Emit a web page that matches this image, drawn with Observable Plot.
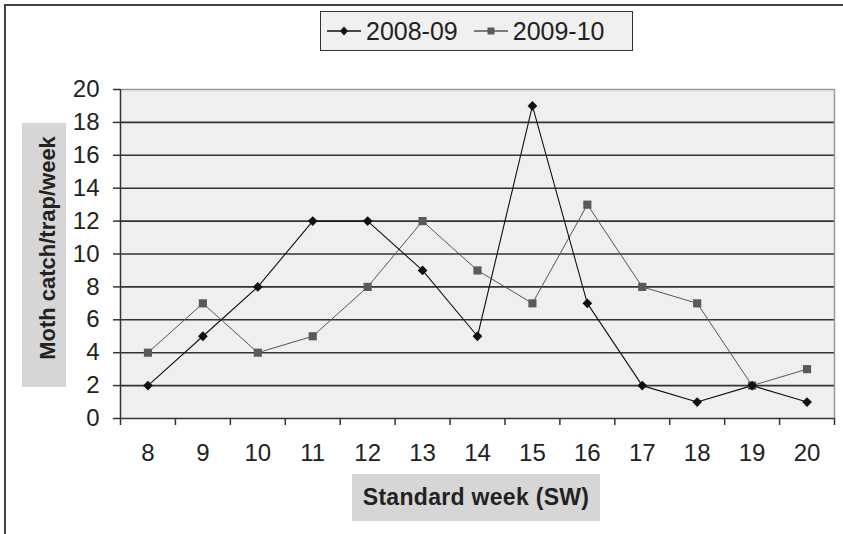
<!DOCTYPE html>
<html>
<head>
<meta charset="utf-8">
<script src="https://cdn.jsdelivr.net/npm/d3@7"></script>
<script src="https://cdn.jsdelivr.net/npm/@observablehq/plot@0.6"></script>
<style>
  body { margin: 0; background: #fff; font-family: "Liberation Sans", Arial, sans-serif; }
  #wrap { position: relative; width: 843px; height: 534px; overflow: hidden; background: #fff; }
  #frame { position: absolute; left: 4px; top: 4px; width: 900px; height: 600px; border-top: 2px solid #444; border-left: 2px solid #444; }
  #legend { position: relative; height: 60px; }
  #legendbox { position: absolute; left: 320px; top: 11px; width: 311px; height: 38px; background: #f0f0f0; border: 1.5px solid #333; display: flex; align-items: center; font-size: 25px; color: #222; font-family: "Liberation Sans Narrow", "Liberation Sans", Arial, sans-serif; }
  .item { display: flex; align-items: center; margin-left: 6px; margin-right: 10px; }
  .item svg { margin-right: 5px; }
  #chart { position: absolute; left: 0; top: 60px; }
</style>
</head>
<body>
<div id="wrap">
  <div id="frame"></div>
  <div id="legend"><div id="legendbox"></div></div>
  <div id="chart"></div>
</div>
<script>
const weeks = [8, 9, 10, 11, 12, 13, 14, 15, 16, 17, 18, 19, 20];
const series0809 = [2, 5, 8, 12, 12, 9, 5, 19, 7, 2, 1, 2, 1];
const series0910 = [4, 7, 4, 5, 8, 12, 9, 7, 13, 8, 7, 2, 3];
const seriesNames = ["2008-09", "2009-10"];
const yTicks = [0, 2, 4, 6, 8, 10, 12, 14, 16, 18, 20];
const xLabel = "Standard week (SW)";
const yLabel = "Moth catch/trap/week";

const d1 = weeks.map((w, i) => ({week: w, value: series0809[i]}));
const d2 = weeks.map((w, i) => ({week: w, value: series0910[i]}));
const boundaries = [...weeks.map(w => w - 0.5), weeks[weeks.length - 1] + 0.5];
const gridVals = yTicks.slice(1, -1);
const tickFont = "'Liberation Sans Narrow', 'Liberation Sans', Arial, sans-serif";

const chart = Plot.plot({
  width: 843,
  height: 474,
  marginTop: 29,
  marginBottom: 116,
  marginLeft: 120,
  marginRight: 9,
  style: {fontFamily: "'Liberation Sans', Arial, sans-serif", color: "#222", background: "transparent"},
  x: {type: "linear", domain: [boundaries[0], boundaries[boundaries.length - 1]]},
  y: {domain: [0, 20]},
  marks: [
    Plot.frame({fill: "#efefef", stroke: null}),
    Plot.ruleY(gridVals, {stroke: "#333", strokeWidth: 1.6}),
    Plot.ruleY([20], {stroke: "#999", strokeWidth: 1.5}),
    Plot.ruleX([boundaries[boundaries.length - 1]], {stroke: "#999", strokeWidth: 1.5}),
    Plot.ruleX([boundaries[0]], {stroke: "#333", strokeWidth: 1.5}),
    Plot.ruleY([0], {stroke: "#333", strokeWidth: 1.5}),
    Plot.axisX(boundaries, {tickSize: 7, tickFormat: () => "", stroke: "#333", strokeWidth: 1.5, label: null}),
    Plot.axisX(weeks, {tickSize: 0, tickPadding: 25, fontSize: 24, fontFamily: tickFont, label: null, tickFormat: d => String(d)}),
    Plot.axisY(yTicks, {tickSize: 7, tickPadding: 14, fontSize: 24, fontFamily: tickFont, stroke: "#333", strokeWidth: 1.5, label: null}),
    Plot.line(d2, {x: "week", y: "value", stroke: "#555", strokeWidth: 1}),
    Plot.line(d1, {x: "week", y: "value", stroke: "#111", strokeWidth: 1.1}),
    Plot.dot(d2, {x: "week", y: "value", symbol: "square", r: 4.6, fill: "#5a5a5a", stroke: null}),
    Plot.dot(d1, {x: "week", y: "value", symbol: "diamond2", r: 4.4, fill: "#111", stroke: null})
  ]
});
document.getElementById("chart").appendChild(chart);

// axis title boxes
const svg = d3.select(chart);
const yg = svg.append("g");
yg.append("rect").attr("x", 22).attr("y", 63).attr("width", 44).attr("height", 264).attr("fill", "#d6d6d6");
yg.append("text").attr("transform", "translate(47,188) rotate(-90)")
  .attr("text-anchor", "middle").attr("dominant-baseline", "central")
  .attr("font-size", 22).attr("font-weight", "bold").attr("fill", "#222").text(yLabel);
const xg = svg.append("g");
xg.append("rect").attr("x", 352).attr("y", 414).attr("width", 248).attr("height", 47).attr("fill", "#d6d6d6");
xg.append("text").attr("x", 476).attr("y", 437)
  .attr("text-anchor", "middle").attr("dominant-baseline", "central")
  .attr("font-size", 23).attr("font-weight", "bold").attr("letter-spacing", 0.3).attr("fill", "#222").text(xLabel);

// legend
const lb = document.getElementById("legendbox");
const mk = [
  {name: seriesNames[0], color: "#111", shape: "diamond"},
  {name: seriesNames[1], color: "#555", shape: "square"}
];
mk.forEach(m => {
  const it = document.createElement("div");
  it.className = "item";
  const s = d3.create("svg").attr("width", 34).attr("height", 14);
  s.append("line").attr("x1", 0).attr("x2", 34).attr("y1", 7).attr("y2", 7).attr("stroke", m.color).attr("stroke-width", 1.5);
  if (m.shape === "diamond") {
    s.append("path").attr("d", "M17,2.5 L21,7 L17,11.5 L13,7 Z").attr("fill", m.color);
  } else {
    s.append("rect").attr("x", 13.5).attr("y", 3.5).attr("width", 7).attr("height", 7).attr("fill", "#5a5a5a");
  }
  it.appendChild(s.node());
  const t = document.createElement("span");
  t.textContent = m.name;
  it.appendChild(t);
  lb.appendChild(it);
});
</script>
</body>
</html>
